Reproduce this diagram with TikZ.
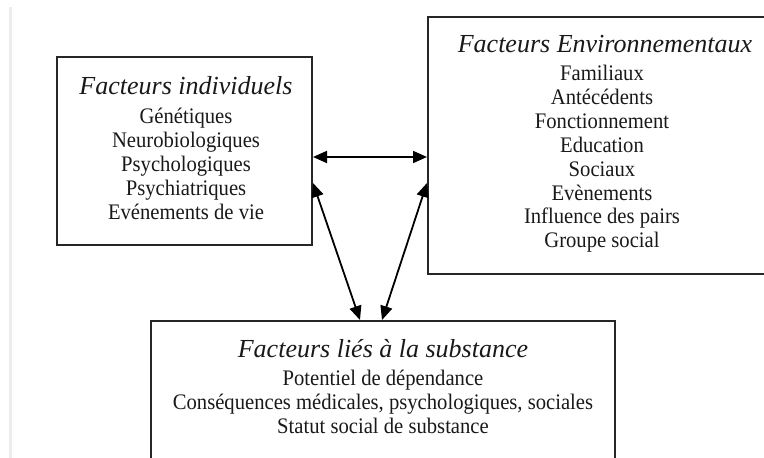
\documentclass[tikz,border=0pt]{standalone}
\usepackage{fontspec}
\setmainfont{Liberation Serif}
\newfontfamily\bodyfont[FakeStretch=0.93]{Liberation Serif}
\usetikzlibrary{arrows.meta}
\tikzset{
  box/.style={draw=black!85, line width=2pt, rectangle, inner sep=0pt},
  ttl/.style={font=\fontsize{26}{28}\selectfont\itshape, inner sep=0pt, anchor=base, text=black!90},
  txt/.style={font=\bodyfont\fontsize{22.2}{24}\selectfont, inner sep=0pt, anchor=base, text=black!90},
  link/.style={line width=1.8pt, {Triangle[length=14pt,width=12pt]}-{Triangle[length=14pt,width=12pt]}},
}
\begin{document}
\begin{tikzpicture}[x=1pt,y=1pt]
\useasboundingbox (0,0) rectangle (764,-458);
\fill[white] (0,0) rectangle (764,-458);
\draw[black!7, line width=3pt] (10,-7) -- (10,-458);
% boxes
\node[box, minimum width=255pt, minimum height=188pt] (ind) at (184.5,-151) {};
\node[box, minimum width=348pt, minimum height=257pt] (env) at (602,-145.5) {};
\node[box, minimum width=464pt, minimum height=160pt] (sub) at (382.5,-401) {};
% left box text
\node[ttl] (indT) at (186,-94) {Facteurs individuels};
\node[txt] (ind1) at (186,-123) {Génétiques};
\node[txt] (ind2) at (186,-147) {Neurobiologiques};
\node[txt] (ind3) at (186,-171) {Psychologiques};
\node[txt] (ind4) at (186,-195) {Psychiatriques};
\node[txt] (ind5) at (186,-219) {Evénements de vie};
% right box text
\node[ttl] (envT) at (605,-52.5) {Facteurs Environnementaux};
\node[txt] (env1) at (602,-80.5) {Familiaux};
\node[txt] (env2) at (602,-104.4) {Antécédents};
\node[txt] (env3) at (602,-128.3) {Fonctionnement};
\node[txt] (env4) at (602,-152.2) {Education};
\node[txt] (env5) at (602,-176.1) {Sociaux};
\node[txt] (env6) at (602,-200) {Evènements};
\node[txt] (env7) at (602,-223.9) {Influence des pairs};
\node[txt] (env8) at (602,-247.8) {Groupe social};
% bottom box text
\node[ttl] (subT) at (383,-357) {Facteurs liés à la substance};
\node[txt] (sub1) at (383,-385) {Potentiel de dépendance};
\node[txt] (sub2) at (383,-409) {Conséquences médicales, psychologiques, sociales};
\node[txt] (sub3) at (383,-433) {Statut social de substance};
% connectors
\coordinate (a1) at (ind.east |- 0,-157);
\coordinate (b1) at (env.west |- 0,-157);
\draw[link] (a1) -- (b1);
\coordinate (a2) at (ind.east |- 0,-183);
\coordinate (b2) at (sub.north -| 360,0);
\draw[link] (a2) -- (b2);
\coordinate (a3) at (env.west |- 0,-183);
\coordinate (b3) at (sub.north -| 382,0);
\draw[link] (a3) -- (b3);
\end{tikzpicture}
\end{document}
